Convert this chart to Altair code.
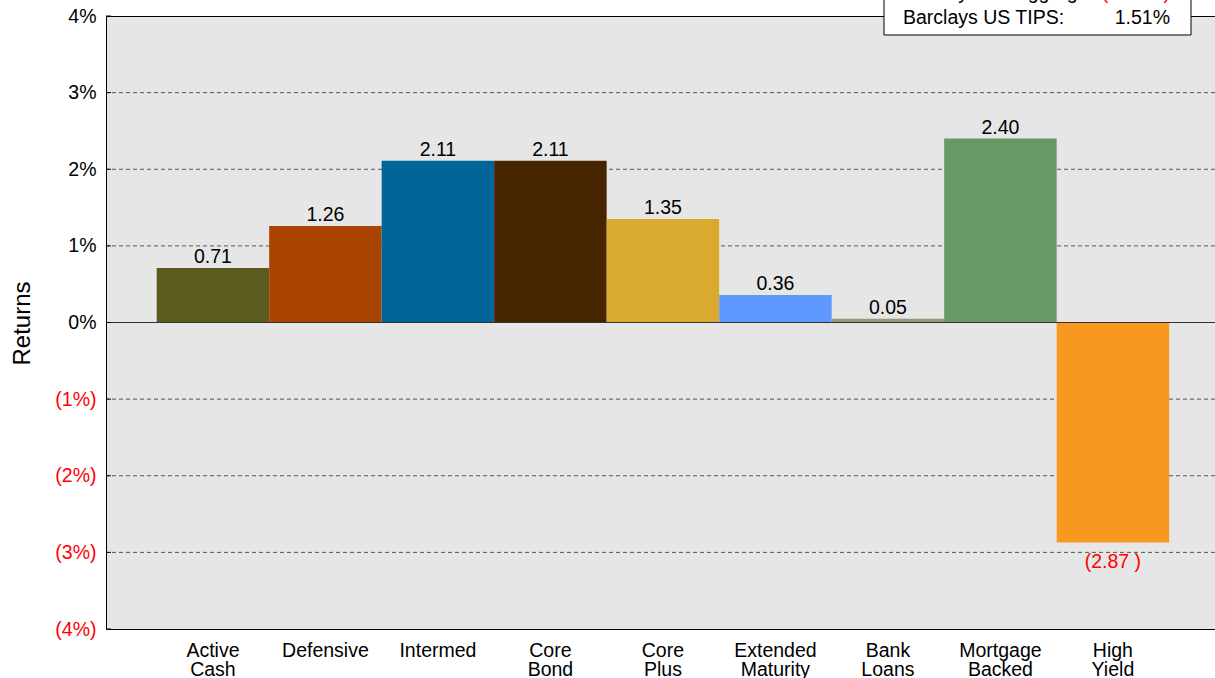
import altair as alt
import pandas as pd

FONT = "Liberation Sans"
FS = 19.5

categories = ["Active Cash", "Defensive", "Intermed", "Core Bond", "Core Plus",
              "Extended Maturity", "Bank Loans", "Mortgage Backed", "High Yield"]
returns = [0.71, 1.26, 2.11, 2.11, 1.35, 0.36, 0.05, 2.40, -2.87]
colors = ["#5C5C1F", "#A84400", "#006699", "#472400", "#DAAA30",
          "#5F99FF", "#9A967A", "#669966", "#F7991F"]

y_ticks = [-4, -3, -2, -1, 0, 1, 2, 3, 4]
grid_vals = [-3, -2, -1, 1, 2, 3]

bench_names = ["Barclays US Aggregate:", "Barclays US TIPS:"]
bench_values = ["(2.02%)", "1.51%"]
title_text = ["Fixed Income Returns: Quarterly"]

labels = [f"{v:.2f}" if v >= 0 else f"({abs(v):.2f} )" for v in returns]
df = pd.DataFrame({"category": categories, "value": returns, "label": labels})

x_enc = alt.X(
    "category:N", sort=categories,
    scale=alt.Scale(paddingInner=0, paddingOuter=0.429, align=0.525),
    axis=alt.Axis(title=None, labelExpr="split(datum.label, ' ')", labelAngle=0,
                  ticks=False, domain=False, labelFontSize=FS, labelFont=FONT,
                  labelColor="black", labelPadding=12, labelLineHeight=19,
                  labelBaseline="top"),
)
y_scale = alt.Scale(domain=[-4, 4], nice=False, zero=False)
y_enc = alt.Y(
    "value:Q", scale=y_scale,
    axis=alt.Axis(values=y_ticks,
                  labelExpr="datum.value < 0 ? '(' + abs(datum.value) + '%)' : datum.value + '%'",
                  labelColor={"condition": {"test": "datum.value < 0", "value": "#FF0000"},
                              "value": "black"},
                  grid=False, ticks=False, domain=False, labelPadding=10,
                  labelFontSize=FS, labelFont=FONT,
                  title="Returns", titleFontSize=24, titleFont=FONT,
                  titleFontWeight="normal", titleColor="black",
                  titleX=-84, titleY=307, titleAlign="center",
                  titleBaseline="middle", titleAngle=270),
)

base = alt.Chart(df)

grid = alt.Chart(pd.DataFrame({"value": grid_vals})).mark_rule(
    color="#555555", strokeWidth=1, strokeDash=[4, 3]
).encode(y=alt.Y("value:Q", scale=y_scale))

bars = base.mark_bar(stroke=None).encode(
    x=x_enc,
    y=y_enc,
    y2=alt.datum(0),
    color=alt.Color("category:N", scale=alt.Scale(domain=categories, range=colors), legend=None),
)

zero = alt.Chart(pd.DataFrame({"value": [0]})).mark_rule(
    color="#333333", strokeWidth=1
).encode(y=alt.Y("value:Q", scale=y_scale))

ticks = alt.Chart(pd.DataFrame({"value": y_ticks})).mark_rule(
    color="black", strokeWidth=1
).encode(y=alt.Y("value:Q", scale=y_scale), x=alt.value(0), x2=alt.value(5))

pos_text = base.transform_filter("datum.value >= 0").mark_text(
    baseline="bottom", dy=-1, fontSize=FS, font=FONT, color="black"
).encode(x=alt.X("category:N", sort=categories), y=alt.Y("value:Q", scale=y_scale), text="label:N")

neg_text = base.transform_filter("datum.value < 0").mark_text(
    baseline="top", dy=11, fontSize=FS, font=FONT, color="#FF0000"
).encode(x=alt.X("category:N", sort=categories), y=alt.Y("value:Q", scale=y_scale), text="label:N")

box = alt.Chart(pd.DataFrame({"k": [0]})).mark_rect(
    fill="white", stroke="black", strokeWidth=1
).encode(x=alt.value(778), x2=alt.value(1085), y=alt.value(-70), y2=alt.value(19))

bench = pd.DataFrame({"name": bench_names, "val": bench_values, "row": [0, 1]})
b_name0 = alt.Chart(bench).transform_filter("datum.row == 0").mark_text(
    align="left", baseline="alphabetic", fontSize=FS, font=FONT, color="black"
).encode(x=alt.value(797), y=alt.value(-17), text="name:N")
b_val0 = alt.Chart(bench).transform_filter("datum.row == 0").mark_text(
    align="right", baseline="alphabetic", fontSize=FS, font=FONT, color="#FF0000"
).encode(x=alt.value(1064), y=alt.value(-17), text="val:N")
b_name1 = alt.Chart(bench).transform_filter("datum.row == 1").mark_text(
    align="left", baseline="alphabetic", fontSize=FS, font=FONT, color="black"
).encode(x=alt.value(797), y=alt.value(8), text="name:N")
b_val1 = alt.Chart(bench).transform_filter("datum.row == 1").mark_text(
    align="right", baseline="alphabetic", fontSize=FS, font=FONT, color="black"
).encode(x=alt.value(1064), y=alt.value(8), text="val:N")

title = alt.Chart(pd.DataFrame({"t": title_text})).mark_text(
    align="right", baseline="alphabetic", fontSize=20, font=FONT, color="#1F5F55"
).encode(x=alt.value(230), y=alt.value(-20), text="t:N")

chart = alt.layer(
    grid, bars, zero, ticks, pos_text, neg_text, box,
    b_name0, b_val0, b_name1, b_val1, title
).properties(
    width=1109, height=613,
    padding={"left": 106, "top": 16, "right": 0, "bottom": 49},
    autosize=alt.AutoSizeParams(type="none"),
    background="white",
).configure_view(
    stroke="black", strokeWidth=1, fill="#E6E6E6"
)

chart.save("out.html", embed_options={"renderer": "svg", "actions": False})
